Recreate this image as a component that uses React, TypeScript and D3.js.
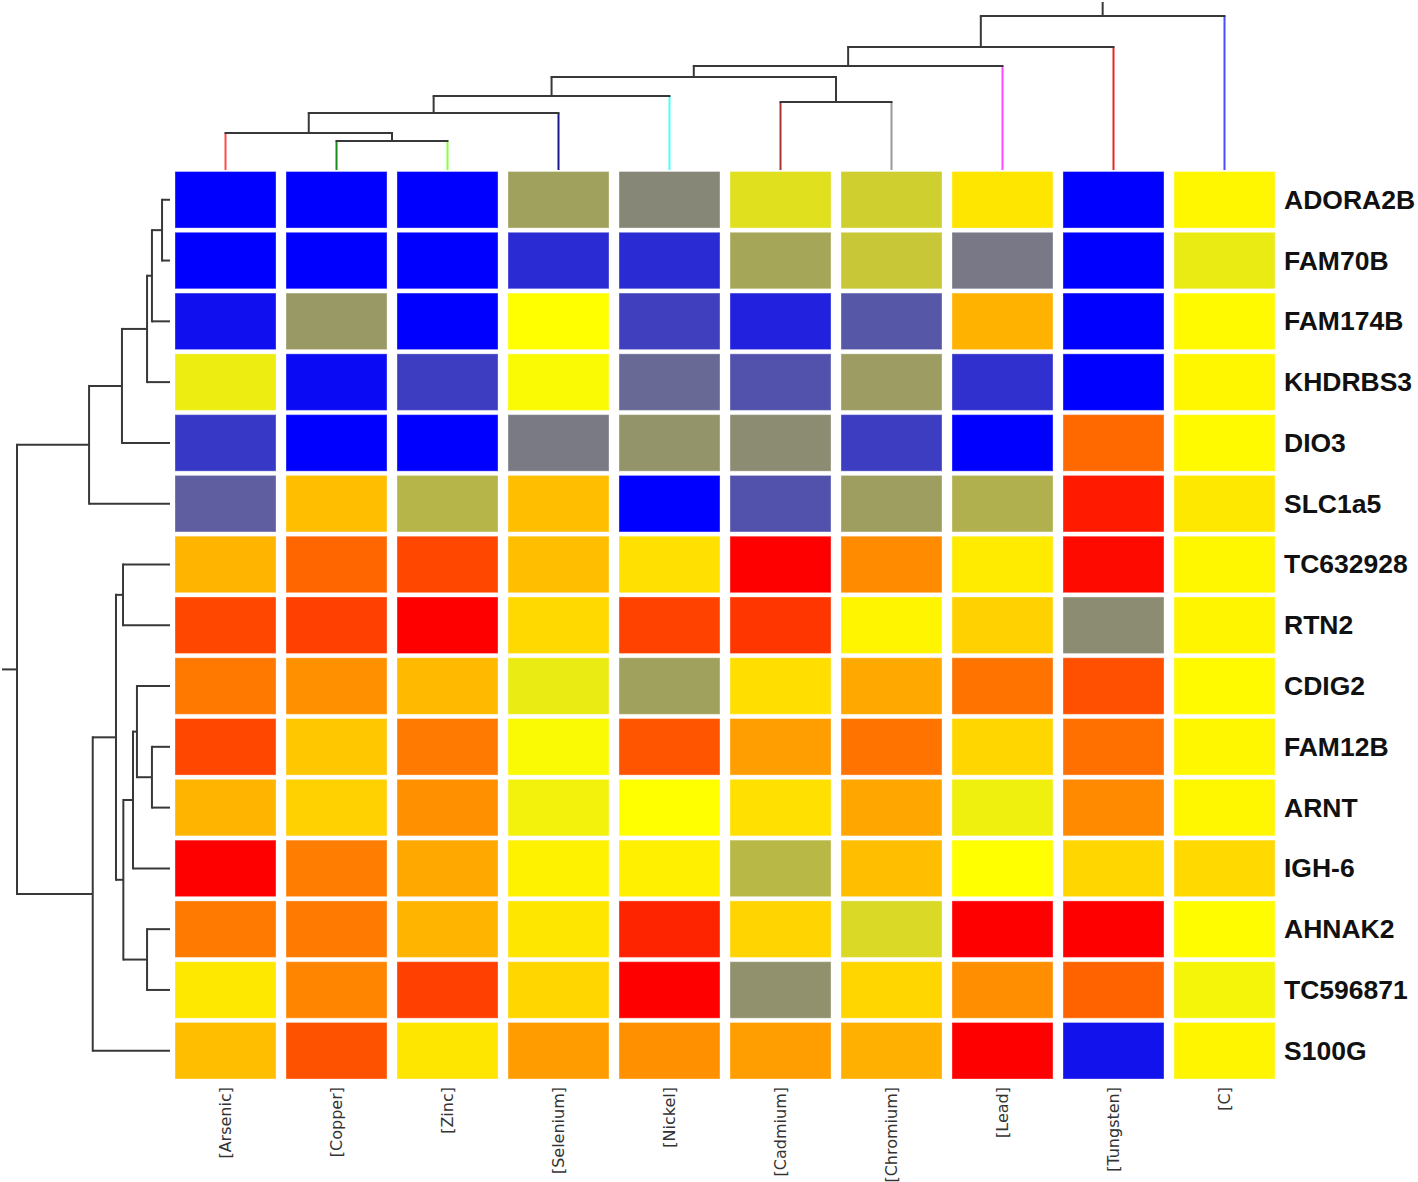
import React from "react";
import * as d3 from "d3";

const rowLabels = ["ADORA2B","FAM70B","FAM174B","KHDRBS3","DIO3","SLC1a5","TC632928","RTN2","CDIG2","FAM12B","ARNT","IGH-6","AHNAK2","TC596871","S100G"];
const colLabels = ["[Arsenic]","[Copper]","[Zinc]","[Selenium]","[Nickel]","[Cadmium]","[Chromium]","[Lead]","[Tungsten]","[C]"];

// values: -1 (blue) .. 0 (yellow) .. 1 (red)
const rowADORA2B = [-1, -1, -1, -0.37, -0.47, -0.12, -0.19, 0.1, -1, 0.03];
const rowFAM70B = [-1, -1, -1, -0.83, -0.83, -0.35, -0.22, -0.53, -1, -0.08];
const rowFAM174B = [-0.94, -0.4, -1, 0.0, -0.75, -0.87, -0.66, 0.3, -1, 0.02];
const rowKHDRBS3 = [-0.07, -0.96, -0.76, -0.02, -0.59, -0.68, -0.39, -0.81, -1, 0.03];
const rowDIO3 = [-0.78, -1, -1, -0.52, -0.42, -0.45, -0.76, -1, 0.59, 0.02];
const rowSLC1a5 = [-0.63, 0.25, -0.29, 0.25, -1, -0.68, -0.38, -0.31, 0.9, 0.09];
const rowTC632928 = [0.29, 0.6, 0.72, 0.25, 0.12, 1.0, 0.45, 0.08, 0.96, 0.03];
const rowRTN2 = [0.72, 0.75, 1.0, 0.15, 0.74, 0.79, 0.04, 0.18, -0.45, 0.04];
const rowCDIG2 = [0.53, 0.43, 0.27, -0.08, -0.37, 0.13, 0.34, 0.55, 0.69, 0.02];
const rowFAM12B = [0.72, 0.22, 0.52, -0.02, 0.67, 0.38, 0.55, 0.16, 0.56, 0.03];
const rowARNT = [0.29, 0.18, 0.43, -0.05, 0.0, 0.12, 0.35, -0.06, 0.46, 0.03];
const rowIGH6 = [1.0, 0.51, 0.34, 0.05, 0.06, -0.28, 0.25, 0.0, 0.16, 0.15];
const rowAHNAK2 = [0.52, 0.52, 0.29, 0.1, 0.86, 0.17, -0.15, 1.0, 1.0, 0.01];
const rowTC596871 = [0.09, 0.48, 0.75, 0.16, 1.0, -0.43, 0.16, 0.44, 0.61, -0.04];
const rowS100G = [0.25, 0.68, 0.1, 0.39, 0.43, 0.38, 0.31, 1.0, -0.93, 0.04];

const values = [rowADORA2B, rowFAM70B, rowFAM174B, rowKHDRBS3, rowDIO3, rowSLC1a5, rowTC632928, rowRTN2, rowCDIG2, rowFAM12B, rowARNT, rowIGH6, rowAHNAK2, rowTC596871, rowS100G];

// linkage: [childA, childB, height]; indices < n are leaves, >= n are earlier merges
const rowLinkage: [number, number, number][] = [
  [0, 1, 0.052],
  [15, 2, 0.118],
  [16, 3, 0.15],
  [17, 4, 0.314],
  [18, 5, 0.529],
  [9, 10, 0.118],
  [8, 20, 0.216],
  [21, 11, 0.242],
  [12, 13, 0.15],
  [22, 23, 0.305],
  [6, 7, 0.307],
  [25, 24, 0.353],
  [26, 14, 0.505],
  [19, 27, 1.0],
];
const colLinkage: [number, number, number][] = [
  [1, 2, 0.188],
  [0, 10, 0.24],
  [11, 3, 0.37],
  [12, 4, 0.481],
  [5, 6, 0.442],
  [13, 14, 0.604],
  [15, 7, 0.675],
  [16, 8, 0.799],
  [17, 9, 1.0],
];
const colLeafColors = ["#ff4a4a", "#1a8a1a", "#8cff3a", "#1a1a8c", "#4affff", "#a83232", "#9a9a9a", "#ff4aff", "#e02828", "#4a4aff"];

const W = 1418;
const H = 1182;

function buildTree(n: number, linkage: [number, number, number][], leafPos: (i: number) => number) {
  const pos: number[] = [];
  const hgt: number[] = [];
  for (let i = 0; i < n; i++) { pos.push(leafPos(i)); hgt.push(0); }
  linkage.forEach(([a, b, h]) => {
    pos.push((pos[a] + pos[b]) / 2);
    hgt.push(h);
  });
  return { pos, hgt };
}

export default function App() {
  const x = d3.scaleBand<number>().domain(d3.range(colLabels.length)).range([175, 1275]).paddingInner(0.09);
  const y = d3.scaleBand<number>().domain(d3.range(rowLabels.length)).range([171.5, 1079]).paddingInner(0.07);
  const color = d3.scaleLinear<string>().domain([-1, 0, 1]).range(["#0000ff", "#ffff00", "#ff0000"]).interpolate(d3.interpolateRgb).clamp(true);

  const topH = d3.scaleLinear().domain([0, 1]).range([170, 16]);
  const leftH = d3.scaleLinear().domain([0, 1]).range([170, 17]);

  const nC = colLabels.length;
  const nR = rowLabels.length;
  const colTree = buildTree(nC, colLinkage, (i) => (x(i) as number) + x.bandwidth() / 2);
  const rowTree = buildTree(nR, rowLinkage, (i) => (y(i) as number) + y.bandwidth() / 2);

  const lineColor = "#383838";
  const lw = 2;

  const topLines: React.ReactNode[] = [];
  colLinkage.forEach(([a, b, h], k) => {
    const yy = topH(h);
    [a, b].forEach((c) => {
      topLines.push(
        <line key={`tv${k}-${c}`} x1={colTree.pos[c]} x2={colTree.pos[c]} y1={topH(colTree.hgt[c])} y2={yy}
          stroke={c < nC ? colLeafColors[c] : lineColor} strokeWidth={lw} />
      );
    });
    topLines.push(
      <line key={`th${k}`} x1={colTree.pos[a] - 1} x2={colTree.pos[b] + 1} y1={yy} y2={yy} stroke={lineColor} strokeWidth={lw} />
    );
  });
  const colRoot = colTree.pos.length - 1;
  topLines.push(<line key="troot" x1={colTree.pos[colRoot]} x2={colTree.pos[colRoot]} y1={topH(1)} y2={2} stroke={lineColor} strokeWidth={lw} />);

  const leftLines: React.ReactNode[] = [];
  rowLinkage.forEach(([a, b, h], k) => {
    const xx = leftH(h);
    [a, b].forEach((c) => {
      leftLines.push(
        <line key={`lh${k}-${c}`} y1={rowTree.pos[c]} y2={rowTree.pos[c]} x1={leftH(rowTree.hgt[c])} x2={xx}
          stroke={lineColor} strokeWidth={lw} />
      );
    });
    const y1 = Math.min(rowTree.pos[a], rowTree.pos[b]);
    const y2 = Math.max(rowTree.pos[a], rowTree.pos[b]);
    leftLines.push(
      <line key={`lv${k}`} x1={xx} x2={xx} y1={y1 - 1} y2={y2 + 1} stroke={lineColor} strokeWidth={lw} />
    );
  });
  const rowRoot = rowTree.pos.length - 1;
  leftLines.push(<line key="lroot" y1={rowTree.pos[rowRoot]} y2={rowTree.pos[rowRoot]} x1={leftH(1)} x2={2} stroke={lineColor} strokeWidth={lw} />);

  return (
    <div style={{ position: "absolute", left: 0, top: 0 }}>
      <svg width={W} height={H} style={{ display: "block", background: "#ffffff" }}>
        <g>{topLines}</g>
        <g>{leftLines}</g>
        <g>
          {values.map((row, r) =>
            row.map((v, c) => (
              <rect key={`c${r}-${c}`} x={x(c)} y={y(r)} width={x.bandwidth()} height={y.bandwidth()}
                fill={color(v)} stroke="#ffffff" strokeOpacity={0.35} strokeWidth={1} />
            ))
          )}
        </g>
        <g>
          {rowLabels.map((lab, r) => (
            <text key={lab} x={1284} y={(y(r) as number) + y.bandwidth() / 2} dominantBaseline="central"
              fontFamily="'Liberation Sans', Arial, sans-serif" fontWeight="bold" fontSize={26.5} fill="#111">
              {lab}
            </text>
          ))}
        </g>
        <g>
          {colLabels.map((lab, c) => {
            const cx = (x(c) as number) + x.bandwidth() / 2;
            return (
              <text key={lab} transform={`translate(${cx},1087) rotate(-90)`} textAnchor="end" dominantBaseline="central"
                fontFamily="'DejaVu Sans', Verdana, sans-serif" fontSize={16} fill="#333">
                {lab}
              </text>
            );
          })}
        </g>
      </svg>
    </div>
  );
}
